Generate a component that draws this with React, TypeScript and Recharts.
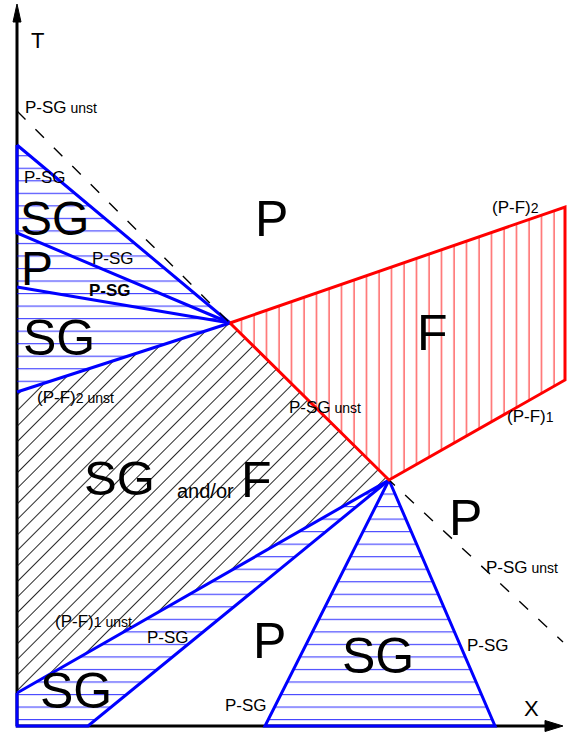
import { ScatterChart, Scatter, XAxis, YAxis } from "recharts";

// composition X runs to the right, temperature T upwards (origin = axis corner)
type Pt = { x: number; y: number };

const A: Pt = { x: 213, y: 403 }; // upper invariant point
const B: Pt = { x: 372, y: 246 }; // lower invariant point

const yAxisLine: Pt[] = [{ x: 0, y: 0 }, { x: 0, y: 708 }];
const yAxisHead: Pt[] = [{ x: 0, y: 722 }, { x: -4, y: 704 }, { x: 4, y: 704 }, { x: 0, y: 722 }];
const xAxisLine: Pt[] = [{ x: -1, y: 0 }, { x: 530, y: 0 }];
const xAxisHead: Pt[] = [{ x: 546, y: 0 }, { x: 528, y: 5.5 }, { x: 528, y: -5.5 }, { x: 546, y: 0 }];

const fanRegion: Pt[] = [{ x: 0, y: 581 }, A, { x: 0, y: 334 }];
const upperSG: Pt[] = [{ x: 0, y: 581 }, A, { x: 0, y: 493 }, { x: 0, y: 581 }];
const fanLine1: Pt[] = [{ x: 0, y: 439 }, A];
const fanLine2: Pt[] = [{ x: 0, y: 334 }, A];
const mixedRegion: Pt[] = [{ x: 0, y: 334 }, A, B, { x: 0, y: 33 }];
const fRegion: Pt[] = [A, { x: 548, y: 519 }, { x: 548, y: 346 }, B, A];
const lowerLeftSG: Pt[] = [{ x: 0, y: 33 }, B, { x: 71, y: 0 }, { x: 0, y: 0 }, { x: 0, y: 33 }];
const triangleSG: Pt[] = [B, { x: 248, y: 0 }, { x: 478, y: 0 }, B];
const unstableLine: Pt[] = [{ x: 0, y: 615 }, A, B, { x: 546, y: 84 }];

type Label = { x: number; y: number; text: string; small?: string; size: number; bold?: boolean };

const labels: Label[] = [
  { x: 14, y: 678, text: "T", size: 22 },
  { x: 507, y: 10, text: "X", size: 22 },
  { x: 8, y: 613, text: "P-SG", small: " unst", size: 17 },
  { x: 7, y: 543, text: "P-SG", size: 17 },
  { x: 3, y: 491, text: "SG", size: 48 },
  { x: 4, y: 441, text: "P", size: 48 },
  { x: 75, y: 462, text: "P-SG", size: 17 },
  { x: 72, y: 430, text: "P-SG", size: 17, bold: true },
  { x: 6, y: 371, text: "SG", size: 50 },
  { x: 20, y: 323, text: "(P-F)", small: "2 unst", size: 17 },
  { x: 238, y: 490, text: "P", size: 50 },
  { x: 475, y: 513, text: "(P-F)", small: "2", size: 17 },
  { x: 400, y: 376, text: "F", size: 50 },
  { x: 272, y: 313, text: "P-SG", small: " unst", size: 17 },
  { x: 490, y: 304, text: "(P-F)", small: "1", size: 17 },
  { x: 67, y: 231, text: "SG", size: 49 },
  { x: 160, y: 228, text: "and/or", size: 20 },
  { x: 224, y: 229, text: "F", size: 50 },
  { x: 432, y: 191, text: "P", size: 50 },
  { x: 469, y: 153, text: "P-SG", small: " unst", size: 17 },
  { x: 38, y: 99, text: "(P-F)", small: "1 unst", size: 17 },
  { x: 130, y: 83, text: "P-SG", size: 17 },
  { x: 236, y: 68, text: "P", size: 50 },
  { x: 325, y: 53, text: "SG", size: 50 },
  { x: 450, y: 75, text: "P-SG", size: 17 },
  { x: 23, y: 18, text: "SG", size: 50 },
  { x: 208, y: 15, text: "P-SG", size: 17 },
];

const FONT = "'Liberation Sans', Arial, sans-serif";
const BLUE = "#0000ff";
const RED = "#ff0000";

const noDot = () => <g />;

const labelShape = (p: any) => {
  const d: Label = p.payload;
  return (
    <text x={p.cx} y={p.cy} fontFamily={FONT} fontSize={d.size} fontWeight={d.bold ? 700 : 400} fill="#000">
      {d.text}
      {d.small && <tspan fontSize={14}>{d.small}</tspan>}
    </text>
  );
};

function shape(
  key: string,
  pts: Pt[],
  stroke: string,
  width: number,
  fill = "none",
  dash?: string
) {
  return (
    <Scatter
      key={key}
      data={pts}
      shape={noDot}
      line={{ stroke, strokeWidth: width, fill, strokeDasharray: dash, strokeLinejoin: "miter" }}
      lineJointType="linear"
      isAnimationActive={false}
    />
  );
}

export default function App() {
  return (
    <div style={{ position: "absolute", left: 0, top: 0, background: "#fff" }}>
      <ScatterChart width={574} height={734} margin={{ top: 0, right: 0, bottom: 0, left: 0 }}>
        <defs>
          <pattern id="blueHatch" patternUnits="userSpaceOnUse" width={20} height={12.53}>
            <line x1={0} x2={20} y1={5.45} y2={5.45} stroke={BLUE} strokeWidth={1} strokeOpacity={0.85} />
          </pattern>
          <pattern id="redHatch" patternUnits="userSpaceOnUse" width={12.5} height={20}>
            <line x1={4} x2={4} y1={0} y2={20} stroke={RED} strokeWidth={1} strokeOpacity={0.9} />
          </pattern>
          <pattern id="blackHatch" patternUnits="userSpaceOnUse" width={11} height={11} patternTransform="rotate(-45)">
            <line x1={0} x2={11} y1={5.5} y2={5.5} stroke="#111" strokeWidth={0.9} />
          </pattern>
        </defs>
        <XAxis type="number" dataKey="x" domain={[-17, 557]} allowDataOverflow hide />
        <YAxis type="number" dataKey="y" domain={[-8, 726]} allowDataOverflow hide />

        {shape("yAxis", yAxisLine, "#000", 3)}
        {shape("yHead", yAxisHead, "#000", 1, "#000")}
        {shape("xAxis", xAxisLine, "#000", 3)}
        {shape("xHead", xAxisHead, "#000", 1, "#000")}

        {shape("mixed", mixedRegion, "none", 0, "url(#blackHatch)")}
        {shape("fan", fanRegion, "none", 0, "url(#blueHatch)")}
        {shape("upperSG", upperSG, BLUE, 3)}
        {shape("fan1", fanLine1, BLUE, 3)}
        {shape("fan2", fanLine2, BLUE, 3)}
        {shape("lowerLeft", lowerLeftSG, BLUE, 3, "url(#blueHatch)")}
        {shape("triangle", triangleSG, BLUE, 3, "url(#blueHatch)")}
        {shape("unstable", unstableLine, "#000", 1.4, "none", "12 14")}
        {shape("F", fRegion, RED, 3, "url(#redHatch)")}

        <Scatter data={labels} shape={labelShape} isAnimationActive={false} />
      </ScatterChart>
    </div>
  );
}
